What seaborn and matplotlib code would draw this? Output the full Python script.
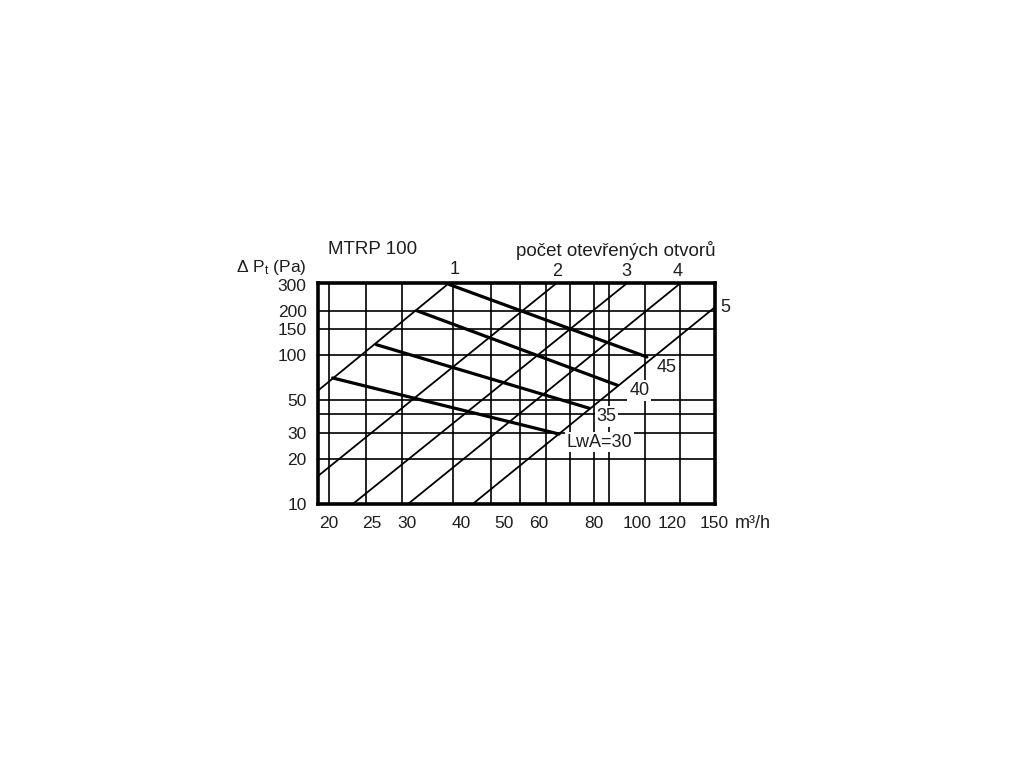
import numpy as np
import pandas as pd
import matplotlib
matplotlib.use('Agg')
import matplotlib.pyplot as plt
from matplotlib.ticker import NullLocator
import seaborn as sns

# Data (x = airflow m3/h, y = pressure drop Pa)
open_labels = ['1', '2', '3', '4', '5']
open_q = [[18.85, 37.5], [18.85, 65.2], [22.7, 94.3], [30.3, 124.7], [42.5, 150.0]]
open_dp = [[57.7, 308], [15.3, 301], [10, 301], [10, 301], [10, 209.5]]

lwa_labels = ['LwA=30', '35', '40', '45']
lwa_q = [[20.36, 66.6], [25.6, 78.0], [31.6, 90.3], [37.5, 105.4]]
lwa_dp = [[70.3, 29.4], [117.9, 43.9], [200, 62.8], [300, 97.4]]

grid_q = [20, 24.3, 29.3, 38.2, 46.6, 54.4, 62.3, 70.3, 79.9, 86.3, 104.2, 125.1]
grid_dp = [20, 30, 40, 50, 100, 150, 200]

xtick_vals = [20, 25, 30, 40, 50, 60, 80, 100, 120, 150]
ytick_vals = [10, 20, 30, 50, 100, 150, 200, 300]

# label offsets in pixels from the line end
open_offsets = [(5.5, 13), (2, 13), (1, 13), (-1, 13), (11, 0)]
lwa_offsets = [(40, -8), (17, -8), (22, -5), (20, -11)]


def to_long(labels, qs, dps):
    rows = []
    for lab, q, p in zip(labels, qs, dps):
        for a, b in zip(q, p):
            rows.append({'line': lab, 'q': a, 'dp': b})
    return pd.DataFrame(rows)


df_open = to_long(open_labels, open_q, open_dp)
df_lwa = to_long(lwa_labels, lwa_q, lwa_dp)

sns.set_theme(style='white')
plt.rcParams['font.family'] = ['Liberation Sans', 'DejaVu Sans']
plt.rcParams['mathtext.fontset'] = 'custom'
plt.rcParams['mathtext.rm'] = 'Liberation Sans'
plt.rcParams['mathtext.it'] = 'Liberation Sans:italic'

W, H = 1024, 768
fig = plt.figure(figsize=(W / 100, H / 100), dpi=100)
ax = fig.add_axes([317.7 / W, 1 - 503.5 / H, (715 - 317.7) / W, (503.5 - 282.5) / H])
ax.set_xscale('log')
ax.set_yscale('log')
ax.set_xlim(18.83, 150.5)
ax.set_ylim(10, 309.7)

for q in grid_q:
    ax.axvline(q, color='black', lw=1.2, zorder=1)
for p in grid_dp:
    ax.axhline(p, color='black', lw=1.2, zorder=1)

sns.lineplot(data=df_open, x='q', y='dp', units='line', estimator=None, sort=False,
             color='black', lw=1.3, ax=ax, zorder=2)
sns.lineplot(data=df_lwa, x='q', y='dp', units='line', estimator=None, sort=False,
             color='black', lw=2.3, ax=ax, zorder=2)

txt = '#1e1e1e'
for lab, q, p, off in zip(open_labels, open_q, open_dp, open_offsets):
    ax.annotate(lab, xy=(q[-1], p[-1]), xytext=off, textcoords='offset pixels',
                ha='center', va='center', fontsize=13, color=txt, annotation_clip=False)
for lab, q, p, off in zip(lwa_labels, lwa_q, lwa_dp, lwa_offsets):
    ax.annotate(lab, xy=(q[-1], p[-1]), xytext=off, textcoords='offset pixels',
                ha='center', va='center', fontsize=13, color=txt, zorder=5,
                bbox=dict(boxstyle='square,pad=0.1', fc='white', ec='none'))

ax.set_xticks(xtick_vals, labels=[str(v) for v in xtick_vals])
ax.set_yticks(ytick_vals, labels=[str(v) for v in ytick_vals])
ax.xaxis.set_minor_locator(NullLocator())
ax.yaxis.set_minor_locator(NullLocator())
ax.tick_params(axis='both', length=0, labelsize=12.5, labelcolor=txt)
ax.tick_params(axis='x', pad=9)
ax.tick_params(axis='y', pad=8)
ax.set_xlabel('')
ax.set_ylabel('')
for s in ax.spines.values():
    s.set_linewidth(2.6)
    s.set_color('black')
    s.set_zorder(4)

fig.text(306.7 / W, 1 - 268 / H, r'Δ P$_{\mathrm{t}}$ (Pa)', ha='right', va='center',
         fontsize=12.5, color=txt)
fig.text(373 / W, 1 - 249 / H, 'MTRP 100', ha='center', va='center', fontsize=13.5, color=txt)
fig.text(616 / W, 1 - 250 / H, 'počet otevřených otvorů', ha='center', va='center',
         fontsize=13.5, color=txt)
fig.text(735 / W, 1 - 523 / H, 'm³/h', ha='left', va='center', fontsize=13, color=txt)

fig.savefig('out.png', dpi=100, facecolor='white')
